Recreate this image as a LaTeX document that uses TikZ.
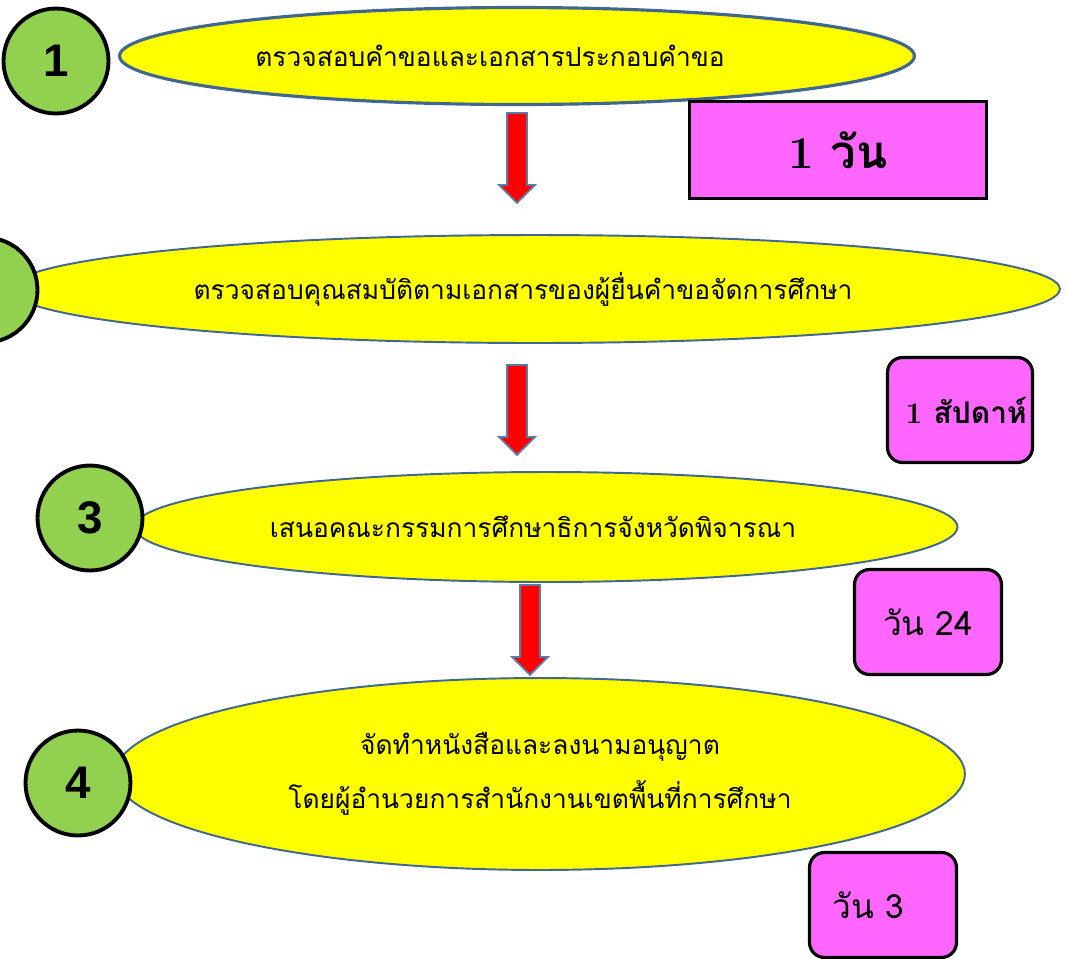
\documentclass[tikz,border=0pt]{standalone}
\usepackage{fontspec}
\newfontfamily\thaifont[Script=Thai]{Loma}
\newfontfamily\numfont{Liberation Sans}
\usetikzlibrary{shapes.geometric,shapes.arrows,positioning}
\definecolor{stepyellow}{HTML}{FFFF00}
\definecolor{stepgreen}{HTML}{92D050}
\definecolor{timepink}{HTML}{FF66FF}
\definecolor{rimblue}{HTML}{41668F}
\definecolor{arrowrim}{HTML}{5A7BA6}

\begin{document}
\begin{tikzpicture}[x=0.02cm, y=-0.02cm,
    stepoval/.style={ellipse, draw=rimblue, line width=1.1pt, fill=stepyellow, inner sep=0pt,
        font=\thaifont\fontsize{15}{22}\selectfont, align=center},
    stepnum/.style={circle, draw=black, line width=2.2pt, fill=stepgreen, minimum size=2.1cm,
        inner sep=0pt, font=\numfont\bfseries\fontsize{26}{28}\selectfont},
    timebox/.style={draw=black, line width=1.8pt, fill=timepink, rounded corners=0.3cm,
        minimum width=2.94cm, minimum height=2.1cm, inner sep=0pt},
    downarrow/.style={single arrow, draw=arrowrim, line width=1pt, fill=red, shape border rotate=270,
        minimum height=1.8cm, inner xsep=0.18cm, inner ysep=0pt, single arrow head extend=0.16cm}
]
    \useasboundingbox (0,0) rectangle (1066,958);

    % Step 1
    \node[stepoval, line width=1.8pt, minimum width=15.9cm, minimum height=1.94cm] (oval1) at (517,56)
        {ตรวจสอบคำขอและเอกสารประกอบคำขอ\hspace{1.08cm}};
    \node[stepnum] (num1) at (56,61) {1};
    \node[timebox, rounded corners=0pt, minimum width=5.94cm, minimum height=1.94cm] (time1) at (838,150)
        {\bfseries\fontsize{26}{28}\selectfont 1 {\thaifont วัน}};

    % Step 2 (its number lies off the page)
    \node[stepoval, minimum width=21cm, minimum height=2.16cm] (oval2) at (535,289)
        {ตรวจสอบคุณสมบัติตามเอกสารของผู้ยื่นคำขอจัดการศึกษา\hspace{0.48cm}};
    \node[stepnum] (num2) at (-15,290) {};
    \node[timebox, minimum width=2.9cm] (time2) at (960,410)
        {\bfseries\fontsize{17}{20}\selectfont\hspace{0.25cm}1 {\thaifont สัปดาห์}};

    % Step 3
    \node[stepoval, minimum width=16.46cm, minimum height=2.2cm] (oval3) at (546,527)
        {เสนอคณะกรรมการศึกษาธิการจังหวัดพิจารณา\hspace{0.52cm}};
    \node[stepnum] (num3) at (90,518) {3};
    \node[timebox] (time3) at (928,622)
        {\thaifont\fontsize{19}{21}\selectfont วัน 24};

    % Step 4
    \node[stepoval, minimum width=17cm, minimum height=3.84cm, font=\thaifont\fontsize{15}{31}\selectfont] (oval4) at (540,774)
        {จัดทำหนังสือและลงนามอนุญาต\\โดยผู้อำนวยการสำนักงานเขตพื้นที่การศึกษา};
    \node[stepnum] (num4) at (78,783) {4};
    \node[timebox] (time4) at (883,905)
        {\thaifont\fontsize{19}{21}\selectfont วัน 3\kern0.6cm};

    % Arrows between the steps
    \node[downarrow] (arrow1) at (517,153) {};
    \node[downarrow] (arrow2) at (517,405) {};
    \node[downarrow] (arrow3) at (530,625) {};
\end{tikzpicture}
\end{document}
